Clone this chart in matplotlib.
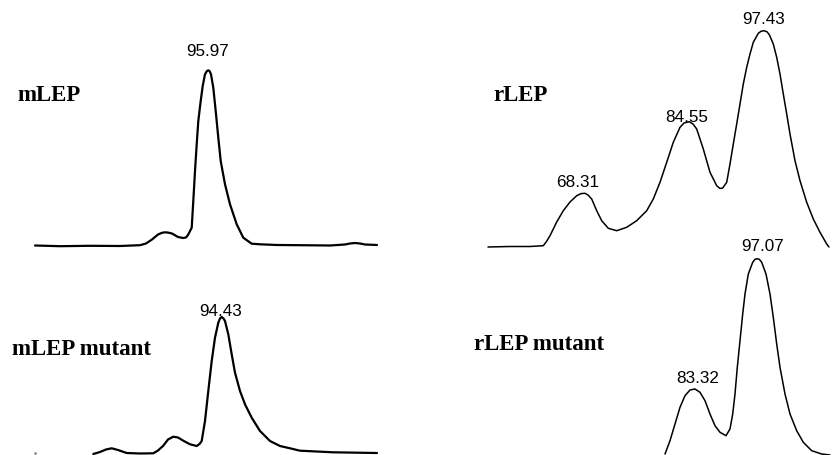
import matplotlib
matplotlib.use("Agg")
import matplotlib.pyplot as plt

# Curvas (coordenadas en píxeles de la figura, y hacia abajo)
mlep_x = [35, 60, 90, 120, 140, 146, 152, 158, 162, 165, 168, 172, 178, 183, 186,
          188, 191.7, 193.3, 195, 196.7, 198.3, 200.7, 202.7, 205, 206.7, 208.3,
          209.7, 211, 213.3, 215.7, 218.3, 220.7, 225, 230, 236.7, 243.3, 251.7,
          260, 277, 300, 330, 345, 350, 355, 360, 365, 377]
mlep_y = [246.5, 247.2, 246.8, 247, 246.2, 244.5, 240.5, 235.5, 233.8, 233.3, 233.6,
          234.5, 238, 239, 238.5, 236, 228.7, 202, 172, 145.3, 122, 102, 87, 75.3,
          72.3, 71.3, 72.3, 75.3, 88.7, 112, 138.7, 162, 185.3, 205.3, 225.3, 238.7,
          244.7, 245.3, 246, 246.2, 246.5, 245.5, 244.5, 244, 244.5, 245.5, 246]

rlep_x = [488, 510, 530, 543.3, 546.5, 550, 556.7, 563.3, 570, 576.7, 581, 585, 588,
          591.7, 596.7, 601.7, 608.3, 616.7, 626.7, 636.7, 646.7, 653.3, 660, 666.7,
          673.3, 680, 684, 689.3, 693, 696.7, 703.3, 710, 716.7, 720, 722.7, 726.7,
          730, 733.3, 736.7, 740, 743.3, 746.7, 750, 753.3, 758.3, 761, 764, 767,
          769.3, 773.3, 776.7, 780, 783.3, 786.7, 790, 795, 800, 806.7, 813.3, 820,
          826.7, 829]
rlep_y = [248, 247.5, 247.5, 246.7, 242.5, 236.7, 223, 211.7, 203, 196.7, 194.6,
          194.3, 196, 200, 211.7, 221.7, 229.3, 231.7, 228.3, 221.7, 211.7, 200,
          183.3, 163.3, 143.3, 128.3, 124, 122.7, 125, 130, 150, 173.3, 186.7, 189.5,
          189, 183.3, 165, 145, 125, 105, 85, 68.3, 55, 43.3, 34.3, 32.3, 31.7, 32.8,
          35.7, 45, 58.3, 75, 95, 115, 135, 161.7, 181.7, 203.3, 220, 233.3, 245, 248]

mlep_mut_x = [93.3, 100, 106, 111.7, 118, 126.7, 140, 153.3, 158, 163.3, 168, 173.3,
              178, 183.3, 190, 196.7, 199.5, 201.7, 205, 208.3, 211.7, 215, 218.3,
              220, 221.7, 223.3, 225, 228.3, 231.7, 235, 240, 245, 251.7, 260, 270,
              280, 290, 300, 333, 377]
mlep_mut_y = [455, 453, 450.5, 449.3, 451, 454, 454.5, 454.3, 451.5, 446.7, 440.5,
              437.7, 438.5, 441.7, 445.3, 447, 445, 442, 422, 392, 362, 338.7, 323.7,
              319.5, 318, 319.3, 322, 335.3, 355.3, 373.7, 392, 405.3, 418.7, 432,
              442, 447, 449.3, 451.7, 453.3, 454]

rlep_mut_x = [665, 670, 675, 680, 685, 690, 695, 700, 705, 710, 715, 720, 726, 730,
              732.7, 735, 737.3, 740, 742.7, 745, 748.3, 752.7, 755, 757.3, 759.5,
              761.7, 766, 770, 773.3, 776.7, 780, 785, 790, 796.7, 803.3, 811.7, 821.7,
              830]
rlep_mut_y = [455, 441.7, 425, 408.3, 396.7, 391, 390, 393.3, 401.7, 415, 426.7,
              433.3, 436.7, 430, 415, 395, 368.3, 341.7, 315, 295, 275, 263.3, 260.3,
              259.7, 260.5, 263.3, 275, 295, 318.3, 345, 368.3, 395, 415, 431.7, 443.3,
              451.7, 455, 456]

# Nombres de las muestras y valores de los picos
muestras = ["mLEP", "rLEP", "mLEP mutant", "rLEP mutant"]
picos = ["95.97", "68.31", "84.55", "97.43", "94.43", "83.32", "97.07"]

fig = plt.figure(figsize=(8.32, 4.56), dpi=100)
ax = fig.add_axes([0, 0, 1, 1])
ax.set_xlim(0, 832)
ax.set_ylim(456, 0)
ax.axis("off")

estilo = dict(color="black", solid_joinstyle="round", solid_capstyle="round")
ax.plot(mlep_x, mlep_y, lw=1.6, **estilo)
ax.plot(rlep_x, rlep_y, lw=1.1, **estilo)
ax.plot(mlep_mut_x, mlep_mut_y, lw=1.6, **estilo)
ax.plot(rlep_mut_x, rlep_mut_y, lw=1.1, **estilo)
ax.plot([35], [454], marker="s", ms=0.8, color="gray")

# Nombres
pos_muestras = [(17, 96), (493, 96), (11.7, 350), (474, 344.5)]
for nombre, (px, py) in zip(muestras, pos_muestras):
    ax.text(px, py, nombre, fontsize=16.5, fontweight="bold",
            family="Liberation Serif", ha="left", va="center")

# Etiquetas de los picos
pos_picos = [(208, 52), (577.7, 182.5), (686.5, 117.3), (763.5, 19.3),
             (221, 311.5), (697.5, 379), (762.7, 247)]
for valor, (px, py) in zip(picos, pos_picos):
    ax.text(px, py, valor, fontsize=12.3, family="Liberation Sans",
            ha="center", va="center")

fig.savefig("out.png", dpi=100, facecolor="white")
